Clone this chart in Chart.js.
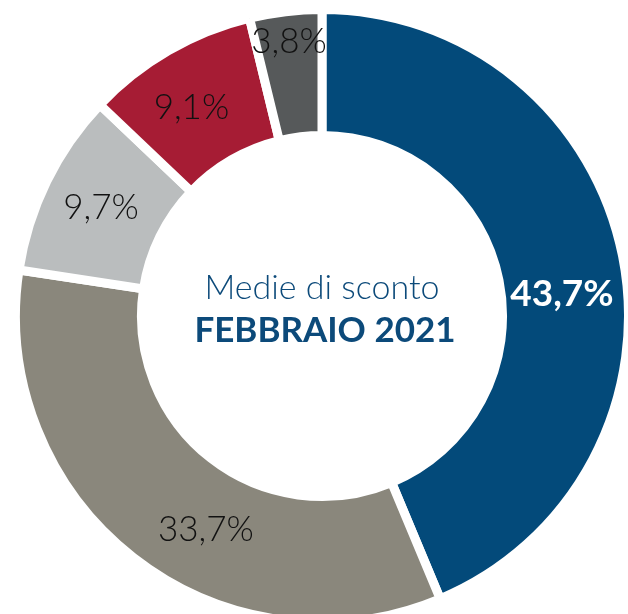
<!DOCTYPE html>
<html>
<head>
<meta charset="utf-8">
<script src="https://cdn.jsdelivr.net/npm/chart.js@4/dist/chart.umd.min.js"></script>
<style>
  html, body { margin: 0; padding: 0; background: #fff; overflow: hidden; }
  #wrap { position: relative; width: 628px; height: 614px; }
</style>
</head>
<body>
<div id="wrap"><canvas id="grafico" width="628" height="614"></canvas></div>
<script>
// Dati del grafico (valori in %)
const categorie = ['A', 'B', 'C', 'D', 'E'];
const valori = [43.7, 33.7, 9.7, 9.1, 3.8];
const etichette = ['43,7%', '33,7%', '9,7%', '9,1%', '3,8%'];
const titolo = ['Medie di sconto', 'FEBBRAIO 2021'];

const colori = ['#034a7a', '#8a877c', '#babdbe', '#a61c34', '#56595a'];

// posizione etichette: raggio (frazione dell'anello) e spostamento angolare in gradi
const posEtichette = [
  { r: 0.48, a: 6, color: '#fff', weight: 700, size: 37 },
  { r: 0.5, a: -9.5, color: '#111', weight: 300, size: 35 },
  { r: 0.52, a: 0, color: '#111', weight: 300, size: 35 },
  { r: 0.52, a: -2, color: '#111', weight: 300, size: 35 },
  { r: 0.76, a: 0, color: '#111', weight: 300, size: 35 }
];

const pluginTesti = {
  id: 'testi',
  afterDatasetsDraw(chart) {
    const ctx = chart.ctx;
    const arcs = chart.getDatasetMeta(0).data;
    ctx.save();
    ctx.textAlign = 'center';
    ctx.textBaseline = 'middle';
    arcs.forEach((arc, i) => {
      const p = arc.getProps(['x', 'y', 'startAngle', 'endAngle', 'innerRadius', 'outerRadius'], true);
      const o = posEtichette[i];
      const ang = (p.startAngle + p.endAngle) / 2 + o.a * Math.PI / 180;
      const rad = p.innerRadius + (p.outerRadius - p.innerRadius) * o.r;
      ctx.fillStyle = o.color;
      ctx.font = o.weight + ' ' + o.size + 'px Lato';
      ctx.fillText(etichette[i], p.x + Math.cos(ang) * rad, p.y + Math.sin(ang) * rad);
    });
    // testo centrale
    const cx = arcs[0].x, cy = arcs[0].y;
    ctx.textBaseline = 'alphabetic';
    ctx.fillStyle = '#0c4a7a';
    ctx.font = '300 34px Lato';
    ctx.fillText(titolo[0], cx, cy - 17);
    ctx.font = '700 35px Lato';
    ctx.fillText(titolo[1], cx + 3, cy + 26);
    ctx.restore();
  }
};

new Chart(document.getElementById('grafico'), {
  type: 'doughnut',
  data: {
    labels: categorie,
    datasets: [{
      data: valori,
      backgroundColor: colori,
      borderColor: '#ffffff',
      borderWidth: 9,
      borderJoinStyle: 'miter',
      clip: false
    }]
  },
  options: {
    responsive: false,
    animation: false,
    radius: 306.5,
    cutout: '58.9%',
    layout: { padding: { left: 16, top: 18 } },
    plugins: {
      legend: { display: false },
      tooltip: { enabled: false }
    }
  },
  plugins: [pluginTesti]
});
</script>
</body>
</html>
